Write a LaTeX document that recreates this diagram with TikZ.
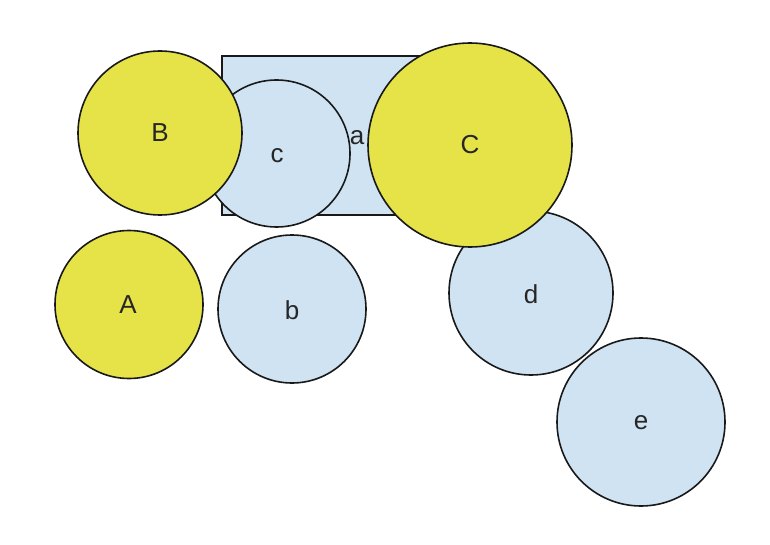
\documentclass[tikz,border=0pt]{standalone}
\usepackage{fontspec}
\setmainfont{Liberation Sans}
\definecolor{ylw}{HTML}{E5E348}
\definecolor{lblue}{HTML}{CFE3F2}
\begin{document}
\begin{tikzpicture}[x=1pt,y=-1pt,
  shp/.style={draw=black!90,line width=1.6pt},
  yc/.style={shp,fill=ylw},
  bc/.style={shp,fill=lblue},
  lbl/.style={font=\fontsize{26}{30}\selectfont,text=black!85}]
\useasboundingbox (0,0) rectangle (770,545);
\draw[bc] (222,56) rectangle (420,215);
\node[lbl] (a) at (357,138) {a};
\draw[bc] (276.5,153.5) circle (73.5);
\node[lbl] (c) at (277,156) {c};
\draw[yc] (160,133) circle (82);
\node[lbl] (B) at (160,133) {B};
\draw[bc] (531,293) circle (82);
\node[lbl] (d) at (531,294) {d};
\draw[yc] (470,145) circle (102);
\node[lbl] (C) at (470,145) {C};
\draw[yc] (129,304.5) circle (74);
\node[lbl] (A) at (128,305) {A};
\draw[bc] (292,309) circle (74);
\node[lbl] (b) at (292,310) {b};
\draw[bc] (641,422) circle (84);
\node[lbl] (e) at (641,423) {e};
\end{tikzpicture}
\end{document}
